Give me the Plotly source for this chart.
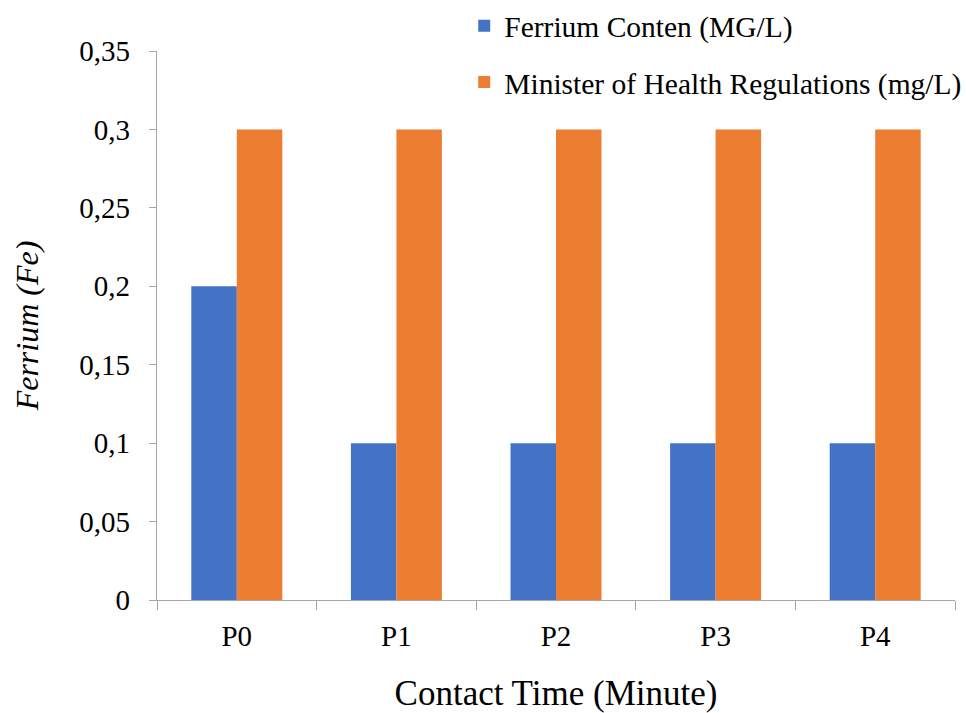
import plotly.graph_objects as go

categories = ["P0", "P1", "P2", "P3", "P4"]
ferrium = [0.2, 0.1, 0.1, 0.1, 0.1]
regulation = [0.3, 0.3, 0.3, 0.3, 0.3]
y_ticks = [0, 0.05, 0.1, 0.15, 0.2, 0.25, 0.3, 0.35]

FONT = "Liberation Serif"
AX = "#A6A6A6"

fig = go.Figure()
fig.add_trace(go.Bar(x=categories, y=ferrium, name="Ferrium Conten (MG/L)",
                     marker=dict(color="#4472C4", line=dict(width=0)), legendgroup="a"))
fig.add_trace(go.Bar(x=categories, y=regulation, name="Minister of Health Regulations (mg/L)",
                     marker=dict(color="#ED7D31", line=dict(width=0)), legendgroup="b"))

fig.update_layout(
    width=966, height=713,
    margin=dict(l=157, r=11, t=51, b=113, autoexpand=False),
    paper_bgcolor="white", plot_bgcolor="white",
    barmode="group", bargap=0.43, bargroupgap=0,
    separators=",.",
    font=dict(family=FONT, size=29, color="#000000"),
    legend=dict(x=0.385, xanchor="left", y=1.0, yanchor="top", yref="container",
                bgcolor="rgba(0,0,0,0)", traceorder="grouped", tracegroupgap=15,
                font=dict(family=FONT, size=29.5), itemwidth=30),
    xaxis=dict(showline=True, linecolor=AX, linewidth=1.3, ticks="outside", tickson="boundaries",
               ticklen=9, tickcolor=AX, showgrid=False, ticklabelstandoff=10,
               title=dict(text="Contact Time (Minute)", font=dict(size=35), standoff=29),
               tickfont=dict(size=29)),
    yaxis=dict(range=[0, 0.35], tickvals=y_ticks, showline=True, linecolor=AX, linewidth=1.3,
               ticks="outside", ticklen=7, tickcolor=AX, showgrid=False, zeroline=False,
               ticklabelstandoff=13,
               title=dict(text="<i>Ferrium (Fe)</i>", font=dict(size=32), standoff=31),
               tickfont=dict(size=29)),
)

fig.write_html("out.html")
